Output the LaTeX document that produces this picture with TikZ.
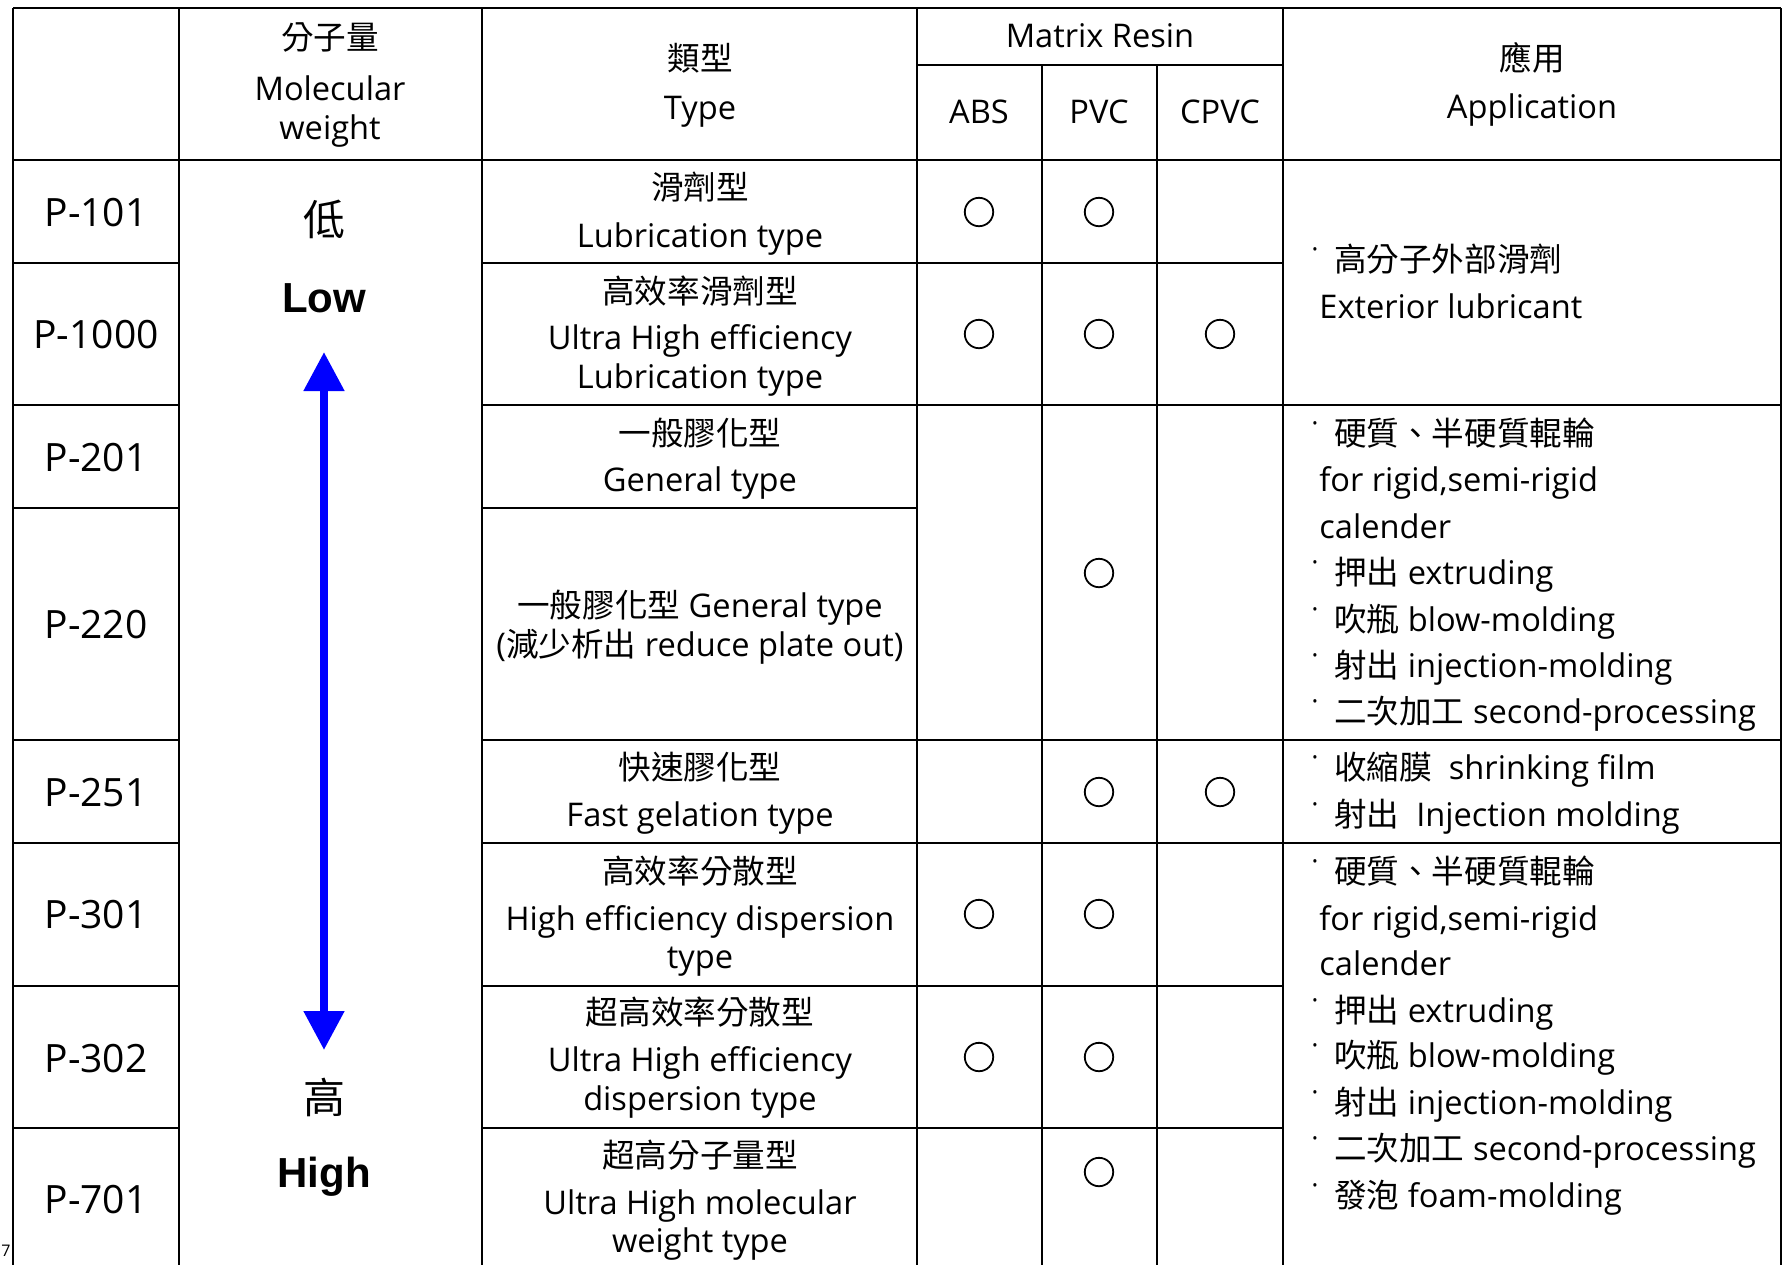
\documentclass[tikz,border=0pt]{standalone}
\usepackage{fontspec}
\setmainfont{Open Sans}
\newfontfamily\cjk{Noto Sans CJK TC}
\newfontfamily\arialf{Liberation Sans}
\usetikzlibrary{arrows.meta}

\newcommand{\bul}{\hspace{-0.26em}{\char"02D9}\hspace{0.46em}}

\tikzset{
  gridline/.style={line width=1pt, black},
  txt/.style={inner sep=0pt, text height=11.8pt, text depth=0pt,
    font=\fontsize{16.3}{19}\selectfont},
  app/.style={txt, anchor=west},
  code/.style={inner sep=0pt, text height=14pt, text depth=0pt,
    font=\fontsize{19.5}{23}\selectfont},
  level/.style={inner sep=0pt, text height=15pt, text depth=0pt,
    font=\fontsize{21}{25}\selectfont},
  ring/.style={circle, draw, line width=0.9pt, inner sep=0pt, minimum size=14.2pt},
  scalearrow/.style={blue, line width=4pt, {Triangle[length=19.5pt,width=19.5pt]}-{Triangle[length=19.5pt,width=19.5pt]}}
}

\begin{document}
\begin{tikzpicture}[x=0.5pt, y=-0.5pt]
  \useasboundingbox (0,0) rectangle (1787,1265);

  % vertical rules
  \draw[gridline] (13,8) -- (13,1265);
  \draw[gridline] (179,8) -- (179,1265);
  \draw[gridline] (482,8) -- (482,1265);
  \draw[gridline] (917,8) -- (917,1265);
  \draw[gridline] (1042,65) -- (1042,1265);
  \draw[gridline] (1157,65) -- (1157,1265);
  \draw[gridline] (1283,8) -- (1283,1265);
  \draw[gridline] (1781,8) -- (1781,1265);
  % horizontal rules
  \draw[gridline] (13,8) -- (1781,8);
  \draw[gridline] (917,65) -- (1283,65);
  \draw[gridline] (13,160) -- (1781,160);
  \foreach \y in {263,508,986,1128} {
    \draw[gridline] (13,\y) -- (179,\y);
  }
  \draw[gridline] (482,263) -- (1283,263);
  \draw[gridline] (482,508) -- (917,508);
  \draw[gridline] (482,986) -- (1283,986);
  \draw[gridline] (482,1128) -- (1283,1128);
  \foreach \y in {405,740,843} {
    \draw[gridline] (13,\y) -- (179,\y);
    \draw[gridline] (482,\y) -- (1781,\y);
  }

  % header
  \node[txt] (mwzh) at (330,38) {\cjk 分子量};
  \node[txt] (mwen) at (330,89) {Molecular};
  \node[txt] (mwen2) at (330,128) {weight};
  \node[txt] (tyzh) at (700,59) {\cjk 類型};
  \node[txt] (tyen) at (700,108) {Type};
  \node[txt] (resin) at (1100,36) {Matrix Resin};
  \node[txt] (abs) at (979,112) {ABS};
  \node[txt] (pvc) at (1099,112) {PVC};
  \node[txt] (cpvc) at (1220,112) {CPVC};
  \node[txt] (apzh) at (1532,59) {\cjk 應用};
  \node[txt] (apen) at (1532,107) {Application};

  % grade codes
  \foreach \nm/\y in {101/212, 1000/334, 201/457, 220/624, 251/792, 301/914, 302/1058, 701/1199} {
    \node[code] (p\nm) at (96,\y) {P-\nm};
  }

  % molecular weight scale
  \node[level] (lozh) at (324,220) {\cjk 低};
  \node[level] (loen) at (324,297) {\arialf\bfseries Low};
  \node[level] (hizh) at (324,1098) {\cjk 高};
  \node[level] (hien) at (324,1172) {\arialf\bfseries High};
  \coordinate (scaletop) at (324,352);
  \coordinate (scalebot) at (324,1050);
  \draw[scalearrow] (scaletop) -- (scalebot);

  % type column
  \node[txt] (t1a) at (700,188) {\cjk 滑劑型};
  \node[txt] (t1b) at (700,236) {Lubrication type};
  \node[txt] (t2a) at (700,292) {\cjk 高效率滑劑型};
  \node[txt] (t2b) at (700,338) {Ultra High efficiency};
  \node[txt] (t2c) at (700,377) {Lubrication type};
  \node[txt] (t3a) at (700,434) {\cjk 一般膠化型};
  \node[txt] (t3b) at (700,480) {General type};
  \node[txt] (t4a) at (700,606) {{\cjk 一般膠化型} General type};
  \node[txt] (t4b) at (700,645) {({\cjk 減少析出} reduce plate out)};
  \node[txt] (t5a) at (700,768) {\cjk 快速膠化型};
  \node[txt] (t5b) at (700,815) {Fast gelation type};
  \node[txt] (t6a) at (700,872) {\cjk 高效率分散型};
  \node[txt] (t6b) at (700,919) {High efficiency dispersion};
  \node[txt] (t6c) at (700,957) {type};
  \node[txt] (t7a) at (700,1013) {\cjk 超高效率分散型};
  \node[txt] (t7b) at (700,1060) {Ultra High efficiency};
  \node[txt] (t7c) at (700,1099) {dispersion type};
  \node[txt] (t8a) at (700,1156) {\cjk 超高分子量型};
  \node[txt] (t8b) at (700,1203) {Ultra High molecular};
  \node[txt] (t8c) at (700,1241) {weight type};

  % resin marks
  \foreach \nm/\x/\y in {a1/979/212, b1/1099/212, a2/979/334, b2/1099/334, c2/1220/334,
      b3/1099/573, b4/1099/792, c4/1220/792, a5/979/914, b5/1099/914,
      a6/979/1057, b6/1099/1057, b7/1099/1172} {
    \node[ring] (o\nm) at (\x,\y) {};
  }

  % application column
  \node[app] (u1a) at (1319,260) {\bul{\cjk 高分子外部滑劑}};
  \node[app] (u1b) at (1319,307) {Exterior lubricant};
  %
  \node[app] (u2a) at (1319,434) {\bul{\cjk 硬質、半硬質輥輪}};
  \node[app] (u2b) at (1319,480) {for rigid,semi-rigid};
  \node[app] (u2c) at (1319,527) {calender};
  \node[app] (u2d) at (1319,573) {\bul{\cjk 押出} extruding};
  \node[app] (u2e) at (1319,620) {\bul{\cjk 吹瓶} blow-molding};
  \node[app] (u2f) at (1319,666) {\bul{\cjk 射出} injection-molding};
  \node[app] (u2g) at (1319,712) {\bul{\cjk 二次加工} second-processing};
  %
  \node[app] (u3a) at (1319,768) {\bul{\cjk 收縮膜}\ \ shrinking film};
  \node[app] (u3b) at (1319,815) {\bul{\cjk 射出}\ \ Injection molding};
  %
  \node[app] (u4a) at (1319,872) {\bul{\cjk 硬質、半硬質輥輪}};
  \node[app] (u4b) at (1319,919) {for rigid,semi-rigid};
  \node[app] (u4c) at (1319,964) {calender};
  \node[app] (u4d) at (1319,1011) {\bul{\cjk 押出} extruding};
  \node[app] (u4e) at (1319,1056) {\bul{\cjk 吹瓶} blow-molding};
  \node[app] (u4f) at (1319,1103) {\bul{\cjk 射出} injection-molding};
  \node[app] (u4g) at (1319,1149) {\bul{\cjk 二次加工} second-processing};
  \node[app] (u4h) at (1319,1196) {\bul{\cjk 發泡} foam-molding};

  % page number fragment
  \node[inner sep=0pt, anchor=base west, font=\fontsize{8}{9}\selectfont] (pgno) at (1,1256) {7};
\end{tikzpicture}
\end{document}
